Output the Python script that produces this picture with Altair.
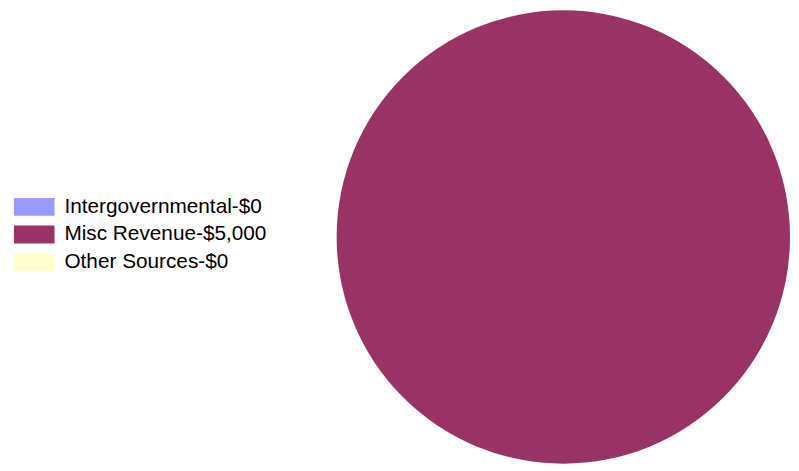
import altair as alt
import pandas as pd

categories = ["Intergovernmental-$0", "Misc Revenue-$5,000", "Other Sources-$0"]
values = [0, 5000, 0]
colors = ["#9999FF", "#993366", "#FFFFCC"]

df = pd.DataFrame({"category": categories, "value": values})

chart = alt.Chart(df).mark_arc(stroke=None).encode(
    theta=alt.Theta("value:Q", stack=True),
    color=alt.Color(
        "category:N",
        scale=alt.Scale(domain=categories, range=colors),
        sort=categories,
        legend=alt.Legend(
            title=None,
            orient="none",
            legendX=16,
            legendY=188,
            symbolType="M-2,-0.88L2,-0.88L2,0.88L-2,0.88Z",
            symbolSize=420,
            symbolStrokeWidth=0,
            symbolOpacity=1,
            labelFontSize=21,
            labelFont="Liberation Sans",
            labelColor="#000000",
            labelOffset=20,
            rowPadding=6,
            labelLimit=400,
        ),
    ),
    x=alt.value(561),
    y=alt.value(229),
    radius=alt.value(229),
).properties(
    width=791,
    height=460,
    padding=0,
    autosize=alt.AutoSizeParams(type="none"),
).configure_view(stroke=None)

chart.save("out.html", embed_options={"renderer": "svg", "actions": False})
